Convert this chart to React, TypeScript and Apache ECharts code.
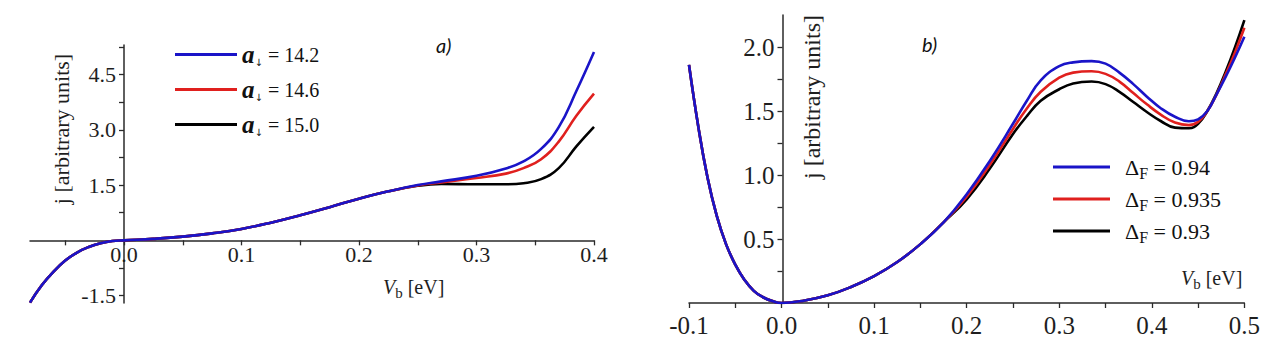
import React, { useEffect, useRef } from 'react';
import * as echarts from 'echarts';

// ---------- Panel a) ----------
const xA = [-0.08, -0.07, -0.06, -0.05, -0.04, -0.03, -0.02, -0.01, 0, 0.025, 0.05, 0.075, 0.1, 0.125, 0.15, 0.175, 0.2, 0.225, 0.25, 0.27, 0.3, 0.325, 0.34, 0.355, 0.37, 0.385, 0.4];
const jA142 = [-1.69, -1.22, -0.85, -0.55, -0.33, -0.18, -0.08, -0.02, 0, 0.04, 0.1, 0.19, 0.31, 0.48, 0.68, 0.9, 1.13, 1.33, 1.5, 1.6, 1.75, 1.95, 2.14, 2.48, 3.07, 4.05, 5.11];
const jA146 = [-1.69, -1.22, -0.85, -0.55, -0.33, -0.18, -0.08, -0.02, 0, 0.04, 0.1, 0.19, 0.31, 0.48, 0.68, 0.9, 1.13, 1.33, 1.49, 1.57, 1.69, 1.81, 1.96, 2.2, 2.68, 3.38, 3.98];
const jA150 = [-1.69, -1.22, -0.85, -0.55, -0.33, -0.18, -0.08, -0.02, 0, 0.04, 0.1, 0.19, 0.31, 0.48, 0.68, 0.9, 1.13, 1.33, 1.48, 1.53, 1.52, 1.52, 1.55, 1.66, 1.96, 2.55, 3.08];
const namesA = ['14.2', '14.6', '15.0'];
const xTicksA = [-0.05, 0, 0.05, 0.1, 0.15, 0.2, 0.25, 0.3, 0.35, 0.4];
const xLabelsA = [0, 0.1, 0.2, 0.3, 0.4];
const yTicksA = [-1.5, -0.75, 0.75, 1.5, 2.25, 3, 3.75, 4.5, 5.25];
const yLabelsA = [-1.5, 1.5, 3, 4.5];

// ---------- Panel b) ----------
const xB = [-0.1, -0.09, -0.08, -0.07, -0.06, -0.05, -0.04, -0.03, -0.02, -0.01, 0, 0.025, 0.05, 0.075, 0.1, 0.125, 0.15, 0.175, 0.2, 0.225, 0.25, 0.265, 0.28, 0.3, 0.315, 0.335, 0.35, 0.365, 0.38, 0.395, 0.41, 0.425, 0.44, 0.45, 0.46, 0.47, 0.48, 0.49, 0.5];
const jB094 = [1.86, 1.38, 0.98, 0.68, 0.46, 0.3, 0.18, 0.095, 0.045, 0.015, 0, 0.02, 0.06, 0.125, 0.21, 0.32, 0.46, 0.63, 0.85, 1.11, 1.4, 1.58, 1.74, 1.85, 1.88, 1.89, 1.87, 1.8, 1.71, 1.61, 1.52, 1.455, 1.42, 1.435, 1.5, 1.63, 1.77, 1.92, 2.08];
const jB0935 = [1.86, 1.38, 0.98, 0.68, 0.46, 0.3, 0.18, 0.095, 0.045, 0.015, 0, 0.02, 0.06, 0.125, 0.21, 0.32, 0.46, 0.63, 0.83, 1.08, 1.36, 1.52, 1.65, 1.76, 1.8, 1.81, 1.79, 1.73, 1.64, 1.55, 1.47, 1.41, 1.39, 1.415, 1.5, 1.63, 1.79, 1.96, 2.15];
const jB093 = [1.86, 1.38, 0.98, 0.68, 0.46, 0.3, 0.18, 0.095, 0.045, 0.015, 0, 0.02, 0.06, 0.125, 0.21, 0.32, 0.46, 0.63, 0.81, 1.05, 1.32, 1.46, 1.58, 1.67, 1.715, 1.73, 1.71, 1.65, 1.57, 1.49, 1.42, 1.37, 1.365, 1.4, 1.5, 1.64, 1.81, 2.0, 2.21];
const namesB = ['0.94', '0.935', '0.93'];
const xTicksB = [-0.1, -0.05, 0, 0.05, 0.1, 0.15, 0.2, 0.25, 0.3, 0.35, 0.4, 0.45, 0.5];
const xLabelsB = [-0.1, 0, 0.1, 0.2, 0.3, 0.4, 0.5];
const yTicksB = [0.25, 0.5, 0.75, 1, 1.25, 1.5, 1.75, 2];
const yLabelsB = [0.5, 1, 1.5, 2];

const BLUE = '#1a14c8';
const RED = '#e0201e';
const BLACK = '#000000';
const SERIF = 'Liberation Serif';
const SANS = 'Lato';
const AXIS = '#2a2a2a';
const TXT = '#1e1e1e';

const zip = (xs: number[], ys: number[]) => xs.map((x, i) => [x, ys[i]]);

// grid geometry
const GA = { left: 30, top: 45, width: 564, height: 258 };
const GB = { left: 689, top: 15, width: 561, height: 288 };

export default function App() {
  const ref = useRef<HTMLDivElement>(null);
  useEffect(() => {
    if (!ref.current) return;
    const chart = echarts.init(ref.current, undefined, { renderer: 'svg' });

    // offsets that move axes onto the zero of the other axis
    const offXA = -(GA.height * (0 - -1.7)) / (5.3 - -1.7);
    const offYA = -(GA.width * (0 - -0.08)) / (0.4 - -0.08);
    const offYB = -(GB.width * (0 - -0.1)) / (0.5 - -0.1);

    const mkAxis = (gi: number, pos: string, min: number, max: number, ticks: number[], labels: number[], fs: number, margin: number, offset: number) => ({
      type: 'value', gridIndex: gi, min, max, position: pos, offset,
      axisLine: { onZero: false, lineStyle: { color: AXIS, width: 1.5 } },
      axisTick: { customValues: ticks, length: 5, inside: false, lineStyle: { color: AXIS, width: 1.3 } },
      axisLabel: { customValues: labels, formatter: (v: number) => v.toFixed(1), margin, fontSize: fs, fontFamily: SERIF, fontWeight: 'normal', color: TXT },
      splitLine: { show: false },
    });

    const line = (name: string, xi: number, data: number[][], color: string) => ({
      type: 'line', name, xAxisIndex: xi, yAxisIndex: xi, data,
      smooth: 0.45, showSymbol: false, symbol: 'none',
      lineStyle: { color, width: 2.6 }, itemStyle: { color },
    });

    const legA = ['A' + namesA[0], 'A' + namesA[1], 'A' + namesA[2]];
    const legB = ['B' + namesB[0], 'B' + namesB[1], 'B' + namesB[2]];

    const vbRich = {
      v: { fontFamily: SERIF, fontStyle: 'italic', fontSize: 20, lineHeight: 24, fill: TXT },
      b: { fontFamily: SERIF, fontSize: 15, padding: [12, 0, 0, 0], fill: TXT },
      t: { fontFamily: SERIF, fontSize: 20, lineHeight: 24, fill: TXT },
    };

    chart.setOption({
      animation: false,
      backgroundColor: '#ffffff',
      textStyle: { fontFamily: SERIF },
      grid: [
        { ...GA, containLabel: false },
        { ...GB, containLabel: false },
      ],
      xAxis: [
        mkAxis(0, 'bottom', -0.08, 0.4, xTicksA, xLabelsA, 22, 3, offXA),
        mkAxis(1, 'bottom', -0.1, 0.5, xTicksB, xLabelsB, 25, 10, 0),
      ],
      yAxis: [
        mkAxis(0, 'left', -1.7, 5.3, yTicksA, yLabelsA, 22, 8, offYA),
        mkAxis(1, 'left', 0, 2.25, yTicksB, yLabelsB, 25, 8, offYB),
      ],
      legend: [
        {
          data: legA, orient: 'vertical', left: 170, top: 37, itemWidth: 62, itemHeight: 3,
          icon: 'rect', itemGap: 10, selectedMode: false,
          formatter: (n: string) => `{a|a}{s|↓}{t| = ${n.slice(1)}}`,
          textStyle: {
            fontFamily: SERIF,
            rich: {
              a: { fontFamily: SERIF, fontStyle: 'italic', fontWeight: 'bold', fontSize: 25, lineHeight: 28, color: '#111' },
              s: { fontFamily: 'DejaVu Sans', fontSize: 10, padding: [15, 0, 0, 0], color: '#111' },
              t: { fontFamily: SERIF, fontSize: 20, lineHeight: 28, color: '#111' },
            },
          },
        },
        {
          data: legB, orient: 'vertical', left: 1048, top: 151, itemWidth: 57, itemHeight: 3,
          icon: 'rect', itemGap: 7, selectedMode: false,
          formatter: (n: string) => `{d|Δ}{s|F}{t| = ${n.slice(1)}}`,
          textStyle: {
            fontFamily: SERIF,
            padding: [0, 0, 0, 10],
            rich: {
              d: { fontFamily: SERIF, fontSize: 22, lineHeight: 28, color: '#111' },
              s: { fontFamily: SERIF, fontSize: 16, padding: [12, 0, 0, 0], color: '#111' },
              t: { fontFamily: SERIF, fontSize: 22, lineHeight: 28, color: '#111' },
            },
          },
        },
      ],
      series: [
        line(legA[2], 0, zip(xA, jA150), BLACK),
        line(legA[1], 0, zip(xA, jA146), RED),
        line(legA[0], 0, zip(xA, jA142), BLUE),
        line(legB[2], 1, zip(xB, jB093), BLACK),
        line(legB[1], 1, zip(xB, jB0935), RED),
        line(legB[0], 1, zip(xB, jB094), BLUE),
      ],
      graphic: [
        {
          type: 'text', x: 61, y: 129, rotation: Math.PI / 2,
          style: { text: 'j [arbitrary units]', fontFamily: SERIF, fontSize: 22, fill: TXT, align: 'center', verticalAlign: 'middle' },
        },
        {
          type: 'text', x: 812, y: 97, rotation: Math.PI / 2,
          style: { text: 'j [arbitrary units]', fontFamily: SERIF, fontSize: 24, fill: TXT, align: 'center', verticalAlign: 'middle' },
        },
        {
          type: 'text', x: 383, y: 287,
          style: { text: '{v|V}{b|b}{t| [eV]}', align: 'left', verticalAlign: 'middle', rich: vbRich },
        },
        {
          type: 'text', x: 1181, y: 278,
          style: { text: '{v|V}{b|b}{t| [eV]}', align: 'left', verticalAlign: 'middle', rich: vbRich },
        },
        {
          type: 'text', x: 436, y: 45,
          style: { text: 'a)', fontFamily: SANS, fontStyle: 'italic', fontSize: 20, fill: '#111', align: 'left', verticalAlign: 'middle' },
        },
        {
          type: 'text', x: 922, y: 44,
          style: { text: 'b)', fontFamily: SANS, fontStyle: 'italic', fontSize: 20, fill: '#111', align: 'left', verticalAlign: 'middle' },
        },
      ],
    });
    return () => chart.dispose();
  }, []);
  return <div ref={ref} style={{ position: 'absolute', left: 0, top: 0, width: 1263, height: 341, background: '#fff' }} />;
}
